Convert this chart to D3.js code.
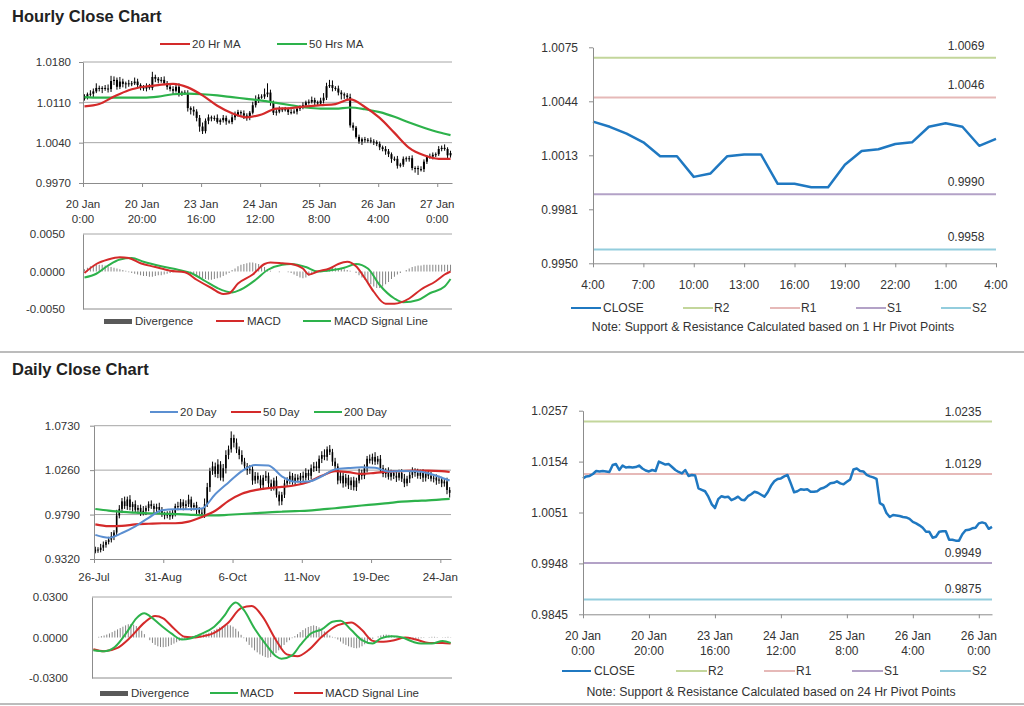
<!DOCTYPE html>
<html><head><meta charset="utf-8">
<script src="https://cdn.jsdelivr.net/npm/d3@7/dist/d3.min.js"></script>
<style>
html,body{margin:0;padding:0;background:#fff;}
svg text{font-family:"Liberation Sans",Arial,Helvetica,sans-serif;}
</style></head><body>
<script>
// ================= DATA =================
// ---- Hourly (shared by hourly close chart and 24 Hr pivot chart) ----
const hourlyTickIdx = [0,20,40,60,80,100,120];
const hourlyTickLabels = [["20 Jan","0:00"],["20 Jan","20:00"],["23 Jan","16:00"],["24 Jan","12:00"],["25 Jan","8:00"],["26 Jan","4:00"],["27 Jan","0:00"]];
const pivot24TickLabels = [["20 Jan","0:00"],["20 Jan","20:00"],["23 Jan","16:00"],["24 Jan","12:00"],["25 Jan","8:00"],["26 Jan","4:00"],["26 Jan","0:00"]];
const hourlyPriceTicks = [0.9970,1.0040,1.0110,1.0180];
const hourlyPriceTickLabels = ["0.9970","1.0040","1.0110","1.0180"];
const hourlyOpen0 = 1.0116;
const hourlyClose = [
 1.0120,1.0124,1.0125,1.0129,1.0135,1.0134,1.0135,1.0134,1.0133,1.0147,
 1.0149,1.0137,1.0146,1.0142,1.0143,1.0142,1.0143,1.0146,1.0140,1.0136,
 1.0134,1.0137,1.0135,1.0154,1.0151,1.0148,1.0149,1.0143,1.0137,1.0133,
 1.0130,1.0137,1.0125,1.0127,1.0126,1.0100,1.0097,1.0094,1.0083,1.0068,
 1.0060,1.0078,1.0084,1.0082,1.0083,1.0076,1.0079,1.0083,1.0077,1.0076,
 1.0084,1.0088,1.0093,1.0091,1.0087,1.0083,1.0092,1.0105,1.0114,1.0119,
 1.0120,1.0124,1.0127,1.0110,1.0092,1.0094,1.0098,1.0097,1.0098,1.0093,
 1.0093,1.0094,1.0099,1.0101,1.0105,1.0110,1.0111,1.0114,1.0110,1.0108,
 1.0113,1.0118,1.0138,1.0140,1.0135,1.0134,1.0127,1.0124,1.0122,1.0119,
 1.0070,1.0066,1.0050,1.0042,1.0046,1.0045,1.0044,1.0042,1.0041,1.0038,
 1.0032,1.0029,1.0025,1.0020,1.0012,1.0012,1.0000,1.0002,1.0012,1.0013,
 1.0013,0.9996,0.9996,0.9994,0.9994,1.0007,1.0015,1.0016,1.0019,1.0020,
 1.0029,1.0031,1.0029,1.0018,1.0022];
// wick extension above / below the bar body, in pips (0.0001)
const hourlyHiExt = [
 4,3,6,5,8,4,3,5,7,9, 6,4,8,5,3,6,4,7,5,3, 4,6,5,9,4,3,5,6,4,3, 5,4,6,3,4,5,3,6,4,5,
 7,4,5,3,4,6,3,5,4,3, 5,6,4,3,5,4,3,6,8,5, 4,10,16,5,3,4,5,3,4,3, 5,4,3,4,5,3,4,6,4,3,
 5,8,6,9,8,3,5,4,3,4, 6,5,3,4,3,4,3,5,4,3, 4,3,5,4,3,4,5,3,4,3, 4,5,3,4,5,4,3,5,4,3, 5,4,6,3,4];
const hourlyLoExt = [
 3,5,4,6,3,5,8,4,6,5, 7,5,4,6,8,5,4,3,6,5, 4,5,3,4,6,5,4,3,5,4, 6,3,5,4,3,6,8,7,6,9,
 5,4,6,5,4,3,5,4,6,3, 4,5,3,4,6,5,4,3,4,5, 3,4,5,6,4,5,3,4,3,5, 4,3,5,4,3,5,4,3,5,4,
 3,5,4,3,6,4,5,9,6,5, 4,5,3,4,6,5,4,3,5,4, 5,4,6,5,7,4,5,3,4,5, 6,4,8,10,4,5,4,3,5,4, 3,4,3,5,4];
const hourlyMaIdx = [0,5,10,15,20,25,30,35,40,45,50,55,60,65,70,75,80,85,90,95,100,105,110,115,120,124];
const hourlyMa20 = [1.0103,1.0107,1.0120,1.0131,1.0137,1.0140,1.0142,1.0136,1.0122,1.0104,1.0091,1.0084,1.0089,1.0099,1.0100,1.0103,1.0105,1.0107,1.0115,1.0102,1.0083,1.0057,1.0031,1.0018,1.0012,1.0012];
const hourlyMa50 = [1.0119,1.0118,1.0118,1.0118,1.0118,1.0120,1.0124,1.0125,1.0124,1.0122,1.0119,1.0116,1.0113,1.0109,1.0105,1.0101,1.0099,1.0099,1.0101,1.0098,1.0093,1.0085,1.0075,1.0066,1.0058,1.0053];
const hourlyMacdIdx = [0,4,8,12,15,19,24,29,34,38,43,47,49,52,57,61,63,67,70,74,76,79,83,86,89,92,95,98,102,105,110,114,119,122,124];
const hourlyMacd = [-0.0002,0.0010,0.0016,0.0019,0.0018,0.0011,0.0006,0.0001,-0.0001,-0.0011,-0.0022,-0.0030,-0.0029,-0.0016,-0.0004,0.0010,0.0012,0.0011,0.0010,0.0004,-0.0004,0.0000,0.0004,0.0010,0.0013,0.0007,-0.0009,-0.0027,-0.0043,-0.0043,-0.0036,-0.0024,-0.0013,-0.0004,0.0000];
const hourlySignalIdx = [0,4,8,12,16,20,26,32,36,41,45,50,53,58,62,67,70,75,79,84,88,92,96,100,105,108,113,117,122,124];
const hourlySignal = [-0.0008,-0.0003,0.0008,0.0016,0.0018,0.0013,0.0007,0.0002,-0.0002,-0.0013,-0.0022,-0.0028,-0.0024,-0.0011,0.0002,0.0009,0.0010,0.0006,0.0000,0.0002,0.0005,0.0010,0.0004,-0.0018,-0.0036,-0.0041,-0.0038,-0.0029,-0.0020,-0.0010];
// divergence in units of 0.0001
const hourlyDivergence = [
 3,5,7,8,9,9,9,8,7,6,5,4,3,2,1,
 -1,-2,-3,-4,-5,-6,-6,-7,-7,-6,-5,-5,-4,-3,-2,-1,
 0,0,0,0,-1,
 -2,-4,-6,-8,-9,-10,-11,-11,-10,-9,-8,-6,-4,-2,
 2,4,7,9,10,11,12,12,11,10,8,6,3,
 1,0,0,-1,0,0,-1,-2,
 -4,-6,-8,-9,-8,-6,-4,-2,
 0,1,
 2,3,4,5,5,4,4,3,2,1,0,
 -2,-5,
 -8,-11,-14,-17,-20,-22,-22,-20,-17,-14,-10,-7,-4,
 -2,0,
 2,4,6,7,8,8,9,9,9,9,9,9,9,9,9,9];
const hourlyMacdTicks = [-0.005,0,0.005];
const hourlyMacdTickLabels = ["-0.0050","0.0000","0.0050"];

// ---- 1 Hr pivot chart ----
const pivot1Start = 100;   // 26 Jan 4:00 in the hourly series
const pivot1HourIdx = [0,3,6,9,12,15,18,21,24];
const pivot1HourLabels = ["4:00","7:00","10:00","13:00","16:00","19:00","22:00","1:00","4:00"];
const pivot1Ticks = [0.9950,0.998125,1.00125,1.004375,1.0075];
const pivot1TickLabels = ["0.9950","0.9981","1.0013","1.0044","1.0075"];
const levelNames = ["R2","R1","S1","S2"];
const pivot1Levels = [1.0069,1.0046,0.9990,0.9958];
const pivot1LevelLabels = ["1.0069","1.0046","0.9990","0.9958"];

// ---- 24 Hr pivot chart ----
const pivot24Ticks = [0.9845,0.9948,1.0051,1.0154,1.0257];
const pivot24YLabels = ["0.9845","0.9948","1.0051","1.0154","1.0257"];
const pivot24Levels = [1.0235,1.0129,0.9949,0.9875];
const pivot24LevelLabels = ["1.0235","1.0129","0.9949","0.9875"];

// ---- Daily ----
const dailyTickIdx = [0,26,52,78,104,130];
const dailyTickLabels = ["26-Jul","31-Aug","6-Oct","11-Nov","19-Dec","24-Jan"];
const dailyPriceTicks = [0.9320,0.9790,1.0260,1.0730];
const dailyPriceTickLabels = ["0.9320","0.9790","1.0260","1.0730"];
const dailyOpen0 = 0.9400;
const dailyClose = [
 0.9420,0.9415,0.9440,0.9470,0.9500,0.9525,0.9560,0.9600,0.9780,0.9850,
 0.9930,0.9880,0.9950,0.9870,0.9900,0.9840,0.9860,0.9810,0.9830,0.9860,
 0.9900,0.9880,0.9850,0.9870,0.9840,0.9800,0.9780,0.9790,0.9770,0.9810,
 0.9880,0.9870,0.9920,0.9880,0.9900,0.9950,0.9870,0.9890,0.9840,0.9810,
 0.9800,0.9900,1.0080,1.0250,1.0300,1.0220,1.0320,1.0180,1.0280,1.0420,
 1.0480,1.0600,1.0550,1.0480,1.0420,1.0350,1.0300,1.0260,1.0270,1.0150,
 1.0200,1.0160,1.0100,1.0180,1.0200,1.0120,1.0080,1.0150,1.0000,0.9930,
 1.0000,1.0120,1.0150,1.0200,1.0140,1.0180,1.0160,1.0200,1.0180,1.0230,
 1.0200,1.0280,1.0300,1.0280,1.0380,1.0420,1.0400,1.0480,1.0450,1.0350,
 1.0300,1.0150,1.0200,1.0120,1.0180,1.0100,1.0150,1.0080,1.0150,1.0230,
 1.0200,1.0280,1.0380,1.0360,1.0400,1.0350,1.0380,1.0280,1.0220,1.0250,
 1.0190,1.0230,1.0200,1.0180,1.0230,1.0170,1.0120,1.0170,1.0210,1.0250,
 1.0230,1.0200,1.0230,1.0180,1.0220,1.0200,1.0170,1.0180,1.0150,1.0160,
 1.0120,1.0140,1.0050,1.0020];
const dailyHiExt = [
 30,25,40,35,20,30,45,25,60,40, 35,50,30,45,25,40,30,35,50,25, 30,40,25,35,45,30,20,35,40,30,
 25,45,35,30,40,50,30,25,35,30, 40,60,45,35,50,40,55,35,45,50, 40,70,35,45,30,50,40,35,45,30,
 40,35,45,30,50,35,40,30,45,35, 30,40,35,45,30,40,35,30,45,50, 35,40,45,50,35,40,60,30,45,35,
 40,30,45,35,40,30,35,40,30,45, 35,40,30,45,35,50,30,40,35,30, 40,35,30,45,35,40,50,30,35,40,
 30,45,35,40,30,35,40,30,35,40, 30,35,40,30];
const dailyLoExt = [
 20,30,25,35,30,25,30,40,35,30, 45,30,40,35,50,30,40,35,30,45, 35,30,45,40,30,35,40,30,35,25,
 40,35,30,45,35,30,40,35,45,30, 35,45,30,50,40,35,45,30,40,55, 45,35,50,40,45,30,35,50,40,45,
 35,40,50,45,35,60,40,35,30,45, 40,35,30,40,35,45,30,40,35,30, 45,35,40,30,50,45,35,40,30,45,
 35,40,30,45,35,40,50,35,40,30, 40,35,45,30,40,35,30,45,35,40, 30,40,35,45,30,35,40,30,45,35,
 40,30,35,45,40,35,30,40,45,35, 40,35,45,50];
const dailyMaIdx = [0,5,10,15,20,25,30,35,40,45,50,55,60,65,70,75,80,85,90,95,100,105,110,115,120,125,130,133];
const dailyMa20 = [0.9575,0.9545,0.9595,0.9665,0.9755,0.9835,0.9845,0.9846,0.9855,1.0005,1.0130,1.0250,1.0315,1.0310,1.0195,1.0138,1.0140,1.0195,1.0268,1.0282,1.0290,1.0285,1.0246,1.0250,1.0248,1.0228,1.0180,1.0150];
const dailyMa50 = [0.9687,0.9668,0.9670,0.9687,0.9693,0.9698,0.9698,0.9715,0.9765,0.9830,0.9935,1.0010,1.0048,1.0070,1.0083,1.0100,1.0135,1.0200,1.0250,1.0238,1.0220,1.0232,1.0245,1.0250,1.0255,1.0255,1.0250,1.0240];
const dailyMa200 = [0.9849,0.9832,0.9818,0.9810,0.9804,0.9799,0.9795,0.9790,0.9782,0.9780,0.9788,0.9796,0.9805,0.9814,0.9820,0.9826,0.9832,0.9845,0.9857,0.9872,0.9886,0.9898,0.9912,0.9926,0.9935,0.9941,0.9950,0.9955];
const dailyMacdIdx = [0,4,8,13,16,19,21,25,29,33,36,40,45,49,51,53,56,60,64,68,70,74,77,81,85,89,92,96,100,104,107,111,115,119,122,126,130,133];
const dailyMacd = [-0.0095,-0.0102,-0.0070,0.0055,0.0142,0.0179,0.0159,0.0092,0.0030,-0.0015,-0.0007,0.0025,0.0080,0.0167,0.0229,0.0259,0.0204,0.0067,-0.0045,-0.0139,-0.0157,-0.0132,-0.0057,0.0030,0.0060,0.0117,0.0125,0.0055,-0.0020,-0.0045,-0.0007,0.0010,0.0000,-0.0032,-0.0045,-0.0045,-0.0025,-0.0040];
const dailySignalIdx = [0,4,9,14,19,23,26,30,34,38,41,45,50,55,59,63,68,72,76,80,85,91,96,100,104,107,112,116,120,125,130,133];
const dailySignal = [-0.0087,-0.0102,-0.0077,0.0005,0.0110,0.0159,0.0142,0.0067,0.0005,0.0000,0.0010,0.0035,0.0105,0.0217,0.0234,0.0154,-0.0020,-0.0125,-0.0139,-0.0095,0.0005,0.0092,0.0112,0.0055,-0.0025,-0.0032,-0.0020,0.0000,-0.0015,-0.0040,-0.0040,-0.0045];
// divergence in units of 0.0001
const dailyDivergence = [
 0,0,5,10,15,22,30,40,50,60,70,80,90,98,100,95,85,70,50,25,
 0,-20,-40,-55,-65,-70,-72,-70,-65,-55,-45,-35,-25,-15,-8,
 0,5,10,15,18,20,22,28,35,
 45,55,65,75,85,90,92,90,80,65,45,20,
 -5,-30,-55,-75,-95,-110,-125,-135,-145,-150,-145,-130,-115,-95,-75,-55,-35,-20,-5,
 10,25,40,55,68,78,85,90,85,75,60,45,30,15,
 5,-5,-15,-30,-45,
 -55,-65,-72,-78,-80,-75,-65,-50,-35,
 -20,-10,0,8,
 15,20,22,20,15,10,
 5,0,-3,-5,-8,-10,-12,-10,-8,-5,-3,0,3,5,5,3,0,-2,3,5,2];
const dailyMacdTicks = [-0.03,0,0.03];
const dailyMacdTickLabels = ["-0.0300","0.0000","0.0300"];

// ================= DRAWING =================
const RED = "#d42a2a", GREEN = "#2db24b", BLUE = "#5b8fd1", CLOSE = "#1f78c1";
const LEVEL_COLORS = ["#c3d69b","#e6b9b8","#b3a2c7","#93cddd"];
const AXIS = "#8c8c8c", GRID = "#a6a6a6", TXT = "#333", DIV = "#858585";

const svg = d3.select("body").append("svg").attr("width",1024).attr("height",706);

function yAxis(x0, y, ticks, labels, pad, fs){
  const g = svg.append("g").attr("transform",`translate(${x0},0)`)
    .call(d3.axisLeft(y).tickValues(ticks).tickFormat((d,i)=>labels[i]).tickSizeInner(4).tickSizeOuter(0).tickPadding(pad));
  g.select(".domain").attr("stroke",AXIS);
  g.selectAll(".tick line").attr("stroke",AXIS);
  g.selectAll(".tick text").attr("fill",TXT).style("font-size",fs+"px")
    .style("font-family",'"Liberation Sans",Arial,sans-serif');
  return g;
}
function xAxis(y0, x, idx){
  const g = svg.append("g").attr("transform",`translate(0,${y0})`)
    .call(d3.axisBottom(x).tickValues(idx).tickFormat("").tickSizeInner(4).tickSizeOuter(0));
  g.select(".domain").attr("stroke",AXIS);
  g.selectAll(".tick line").attr("stroke",AXIS);
  return g;
}
function xLabels(x, idx, labels, y1, y2, fs){
  idx.forEach((d,i)=>{
    const lab = labels[i];
    const t = svg.append("text").attr("x",x(d)).attr("y",y1).attr("text-anchor","middle")
      .attr("fill",TXT).style("font-size",fs+"px");
    if (Array.isArray(lab)){
      t.append("tspan").attr("x",x(d)).attr("y",y1).text(lab[0]);
      t.append("tspan").attr("x",x(d)).attr("y",y2).text(lab[1]);
    } else t.text(lab);
  });
}
function grid(x, y, ticks){
  svg.append("g").selectAll("line").data(ticks).join("line")
    .attr("x1",x.range()[0]).attr("x2",x.range()[1])
    .attr("y1",d=>y(d)).attr("y2",d=>y(d)).attr("stroke",GRID).attr("stroke-width",1);
}
function text(x,y,s,fs,anchor,weight){
  return svg.append("text").attr("x",x).attr("y",y).attr("text-anchor",anchor||"start")
    .attr("fill",TXT).style("font-size",fs+"px").style("font-weight",weight||"normal").text(s);
}
function legLine(x1,x2,y,color,w){
  svg.append("line").attr("x1",x1).attr("x2",x2).attr("y1",y).attr("y2",y)
    .attr("stroke",color).attr("stroke-width",w||2);
}
function candles(x, y, open0, close, hiExt, loExt, bw){
  const bars = close.map((c,i)=>{
    const o = i===0 ? open0 : close[i-1];
    return {i, o, c, h: Math.max(o,c)+hiExt[i]*1e-4, l: Math.min(o,c)-loExt[i]*1e-4};
  });
  const g = svg.append("g");
  g.selectAll("line").data(bars).join("line")
    .attr("x1",d=>x(d.i+0.5)).attr("x2",d=>x(d.i+0.5))
    .attr("y1",d=>y(d.h)).attr("y2",d=>y(d.l)).attr("stroke","#000").attr("stroke-width",1);
  g.selectAll("rect").data(bars).join("rect")
    .attr("x",d=>x(d.i+0.5)-bw/2).attr("width",bw)
    .attr("y",d=>y(Math.max(d.o,d.c))).attr("height",d=>Math.max(1,Math.abs(y(d.o)-y(d.c))))
    .attr("fill","#000");
}
function smoothLine(x, y, idx, vals, color, w){
  const line = d3.line().x(d=>x(d[0]+0.5)).y(d=>y(d[1])).curve(d3.curveMonotoneX);
  svg.append("path").datum(idx.map((d,i)=>[d,vals[i]])).attr("d",line)
    .attr("fill","none").attr("stroke",color).attr("stroke-width",w||2).attr("stroke-linejoin","round");
}
function divergence(x, y, vals, w){
  svg.append("g").selectAll("rect").data(vals).join("rect")
    .attr("x",(d,i)=>x(i+0.5)-w/2).attr("width",w)
    .attr("y",d=>y(Math.max(0,d*1e-4))).attr("height",d=>Math.abs(y(d*1e-4)-y(0)))
    .attr("fill",DIV);
}

// ---- Titles & separators ----
text(12,22,"Hourly Close Chart",16.5,"start","bold").attr("fill","#222");
text(12,375,"Daily Close Chart",16.5,"start","bold").attr("fill","#222");
svg.append("line").attr("x1",0).attr("x2",1024).attr("y1",352).attr("y2",352).attr("stroke","#a6a6a6").attr("stroke-width",1.5);
svg.append("line").attr("x1",0).attr("x2",1024).attr("y1",704).attr("y2",704).attr("stroke","#a6a6a6").attr("stroke-width",1.5);

// ---- Panel 1: hourly price ----
{
  const x = d3.scaleLinear().domain([0,125]).range([83,452]);
  const y = d3.scaleLinear().domain([0.9970,1.0180]).range([183,62]);
  grid(x,y,hourlyPriceTicks.slice(1));
  candles(x,y,hourlyOpen0,hourlyClose,hourlyHiExt,hourlyLoExt,2);
  smoothLine(x,y,hourlyMaIdx,hourlyMa50,GREEN,2.2);
  smoothLine(x,y,hourlyMaIdx,hourlyMa20,RED,2.2);
  yAxis(83,y,hourlyPriceTicks,hourlyPriceTickLabels,8,11.5);
  xAxis(183,x,hourlyTickIdx);
  xLabels(x,hourlyTickIdx,hourlyTickLabels,208,223,11.5);
  legLine(160,190,44,RED); text(192,48,"20 Hr MA",11.5);
  legLine(277,307,44,GREEN); text(309,48,"50 Hrs MA",11.5);
}
// ---- Panel 2: hourly MACD ----
{
  const x = d3.scaleLinear().domain([0,125]).range([83,452]);
  const y = d3.scaleLinear().domain([-0.005,0.005]).range([309,234]);
  grid(x,y,[0.005]);
  divergence(x,y,hourlyDivergence,1);
  smoothLine(x,y,hourlySignalIdx,hourlySignal,GREEN,2);
  smoothLine(x,y,hourlyMacdIdx,hourlyMacd,RED,2);
  const g = yAxis(83,y,hourlyMacdTicks,hourlyMacdTickLabels,14,11.5);
  g.selectAll(".tick line").remove();
  svg.append("line").attr("x1",83).attr("x2",452).attr("y1",309).attr("y2",309).attr("stroke",AXIS);
  svg.append("rect").attr("x",104).attr("y",319).attr("width",28).attr("height",5).attr("fill","#595959");
  text(135,325,"Divergence",11.5);
  legLine(216,244,321,RED); text(247,325,"MACD",11.5);
  legLine(303,331,321,GREEN); text(334,325,"MACD Signal Line",11.5);
}
// ---- Panel 3: 1 Hr pivot ----
{
  const x = d3.scaleLinear().domain([0,24]).range([593,996]);
  const y = d3.scaleLinear().domain([0.9950,1.0075]).range([263.3,47.3]);
  pivot1Levels.forEach((v,i)=>{
    svg.append("line").attr("x1",x(0)).attr("x2",x(24)).attr("y1",y(v)).attr("y2",y(v))
      .attr("stroke",LEVEL_COLORS[i]).attr("stroke-width",2);
    text(966,y(v)-8,pivot1LevelLabels[i],12,"middle");
  });
  const closes = hourlyClose.slice(pivot1Start);
  svg.append("path").datum(closes)
    .attr("d",d3.line().x((d,i)=>x(i)).y(d=>y(d)))
    .attr("fill","none").attr("stroke",CLOSE).attr("stroke-width",2.5).attr("stroke-linejoin","round");
  yAxis(593,y,pivot1Ticks,pivot1TickLabels,11,12);
  xAxis(263.3,x,pivot1HourIdx);
  xLabels(x,pivot1HourIdx,pivot1HourLabels,289,0,12);
  legLine(571,601,308,CLOSE); text(603,312,"CLOSE",12);
  const lx = [683,770,856,941];
  levelNames.forEach((n,i)=>{ legLine(lx[i],lx[i]+30,308,LEVEL_COLORS[i]); text(lx[i]+31,312,n,12); });
  text(773,331,"Note: Support & Resistance Calculated based on 1 Hr Pivot Points",12.3,"middle");
}
// ---- Panel 4: daily price ----
{
  const x = d3.scaleLinear().domain([0,134]).range([94,451]);
  const y = d3.scaleLinear().domain([0.9320,1.0730]).range([559,425.7]);
  grid(x,y,dailyPriceTicks.slice(1));
  candles(x,y,dailyOpen0,dailyClose,dailyHiExt,dailyLoExt,1.6);
  smoothLine(x,y,dailyMaIdx,dailyMa200,GREEN,2.2);
  smoothLine(x,y,dailyMaIdx,dailyMa50,RED,2.2);
  smoothLine(x,y,dailyMaIdx,dailyMa20,BLUE,2);
  yAxis(94,y,dailyPriceTicks,dailyPriceTickLabels,10,11.5);
  xAxis(559,x,dailyTickIdx);
  xLabels(x,dailyTickIdx,dailyTickLabels,581,0,11.5);
  legLine(150,178,412,BLUE); text(180,416,"20 Day",11.5);
  legLine(231,261,412,RED); text(263,416,"50 Day",11.5);
  legLine(314,342,412,GREEN); text(344,416,"200 Day",11.5);
}
// ---- Panel 5: daily MACD ----
{
  const x = d3.scaleLinear().domain([0,134]).range([92,452]);
  const y = d3.scaleLinear().domain([-0.03,0.03]).range([678,597]);
  grid(x,y,[0.03]);
  divergence(x,y,dailyDivergence,1);
  smoothLine(x,y,dailySignalIdx,dailySignal,RED,2);
  smoothLine(x,y,dailyMacdIdx,dailyMacd,GREEN,2);
  const g = yAxis(92,y,dailyMacdTicks,dailyMacdTickLabels,20,11.5);
  g.selectAll(".tick line").remove();
  svg.append("line").attr("x1",92).attr("x2",452).attr("y1",678).attr("y2",678).attr("stroke",AXIS);
  svg.append("rect").attr("x",100).attr("y",691).attr("width",28).attr("height",5).attr("fill","#595959");
  text(131,697,"Divergence",11.5);
  legLine(210,238,693,GREEN); text(240,697,"MACD",11.5);
  legLine(294,323,693,RED); text(325,697,"MACD Signal Line",11.5);
}
// ---- Panel 6: 24 Hr pivot ----
{
  const x = d3.scaleLinear().domain([0,124]).range([583,992]);
  const y = d3.scaleLinear().domain([0.9845,1.0257]).range([614.3,410.7]);
  pivot24Levels.forEach((v,i)=>{
    svg.append("line").attr("x1",x(0)).attr("x2",x(124)).attr("y1",y(v)).attr("y2",y(v))
      .attr("stroke",LEVEL_COLORS[i]).attr("stroke-width",2);
    text(963,y(v)-6,pivot24LevelLabels[i],12,"middle");
  });
  svg.append("path").datum(hourlyClose)
    .attr("d",d3.line().x((d,i)=>x(i)).y(d=>y(d)))
    .attr("fill","none").attr("stroke",CLOSE).attr("stroke-width",2.5).attr("stroke-linejoin","round");
  yAxis(583,y,pivot24Ticks,pivot24YLabels,11,12);
  xAxis(614.3,x,hourlyTickIdx);
  xLabels(x,hourlyTickIdx,pivot24TickLabels,640,655,12);
  legLine(562,591,671,CLOSE); text(594,675,"CLOSE",12);
  const lx = [676,764,852,940];
  levelNames.forEach((n,i)=>{ legLine(lx[i],lx[i]+31,671,LEVEL_COLORS[i]); text(lx[i]+32,675,n,12); });
  text(771,696,"Note: Support & Resistance Calculated based on 24 Hr Pivot Points",12.3,"middle");
}
</script>
</body></html>
